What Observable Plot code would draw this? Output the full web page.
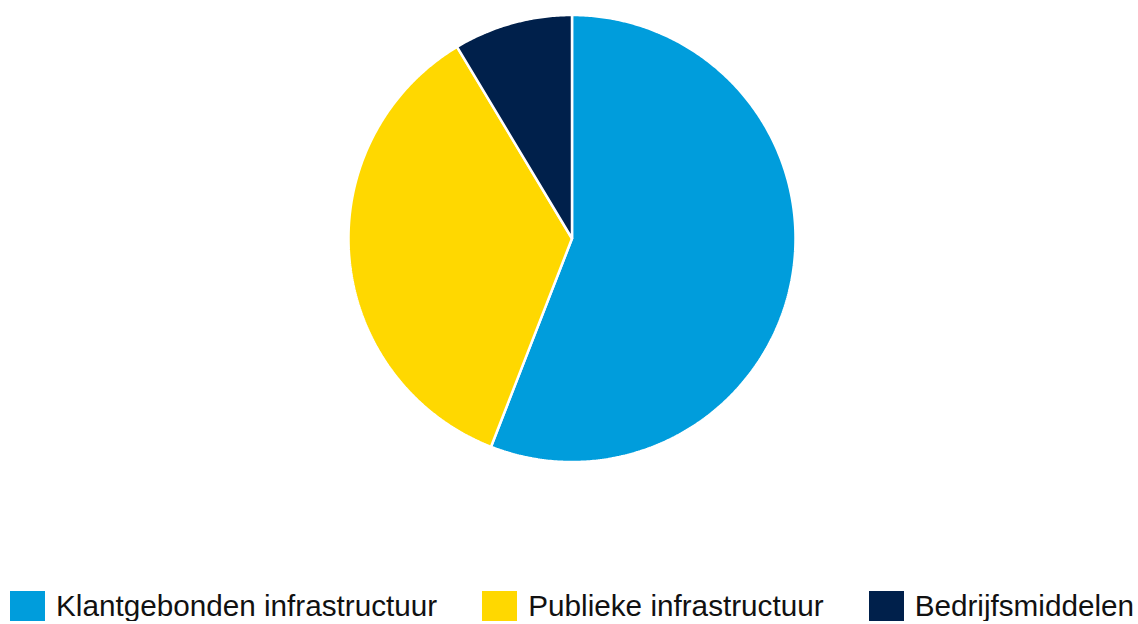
<!DOCTYPE html>
<html>
<head>
<meta charset="utf-8">
<script src="https://cdn.jsdelivr.net/npm/d3@7"></script>
<script src="https://cdn.jsdelivr.net/npm/@observablehq/plot@0.6"></script>
<style>
  body { margin: 0; background: #fff; font-family: "Liberation Sans", Arial, sans-serif; }
  #legend { display: flex; gap: 45px; padding-left: 10px; margin-top: 11px; align-items: center; height: 30px; }
  .item { display: flex; align-items: center; font-size: 29.7px; line-height: 30px; color: #111; white-space: nowrap; }
  .sw { width: 35px; height: 30px; margin-right: 11px; flex: none; }
</style>
</head>
<body>
<div id="chart"></div>
<div id="legend"></div>
<script>
const categories = ["Klantgebonden infrastructuur", "Publieke infrastructuur", "Bedrijfsmiddelen"];
const values = [55.9, 35.5, 8.6];
const colors = ["#009ddc", "#ffd800", "#00204b"];

const total = d3.sum(values);
const points = [];
let start = 0;
categories.forEach((name, i) => {
  const end = start + values[i] / total * 2 * Math.PI;
  points.push({name, x: 0, y: 0});
  const n = Math.max(2, Math.ceil((end - start) / (Math.PI / 360)));
  for (let k = 0; k <= n; k++) {
    const a = start + (end - start) * k / n;
    points.push({name, x: Math.sin(a), y: Math.cos(a)});
  }
  points.push({name, x: 0, y: 0});
  start = end;
});

const chart = Plot.plot({
  width: 1138,
  height: 580,
  marginLeft: 348,
  marginRight: 343,
  marginTop: 14.5,
  marginBottom: 118.5,
  x: {domain: [-1, 1], axis: null},
  y: {domain: [-1, 1], axis: null},
  color: {domain: categories, range: colors},
  marks: [
    Plot.line(points, {x: "x", y: "y", z: "name", fill: "name", stroke: "white", strokeWidth: 2.5, strokeLinejoin: "miter"})
  ]
});
document.getElementById("chart").appendChild(chart);

const legend = document.getElementById("legend");
categories.forEach((name, i) => {
  const it = document.createElement("div");
  it.className = "item";
  const sw = document.createElement("span");
  sw.className = "sw";
  sw.style.background = colors[i];
  it.appendChild(sw);
  it.appendChild(document.createTextNode(name));
  legend.appendChild(it);
});
</script>
</body>
</html>
